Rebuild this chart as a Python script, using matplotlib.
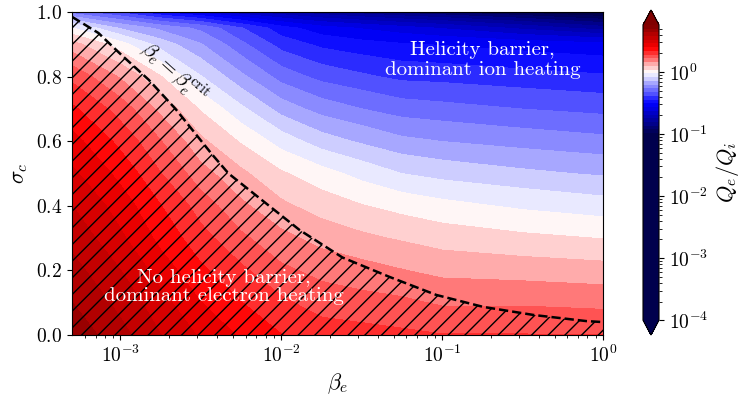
import numpy as np
import matplotlib
matplotlib.use('Agg')
import matplotlib.pyplot as plt
from matplotlib.colors import LinearSegmentedColormap, LogNorm
from matplotlib.ticker import FixedLocator, FixedFormatter

plt.rcParams['font.family'] = 'serif'
plt.rcParams['font.serif'] = ['cmr10']
plt.rcParams['mathtext.fontset'] = 'cm'
plt.rcParams['axes.formatter.use_mathtext'] = True
plt.rcParams['font.size'] = 14

# ----- values -----
beta_e = np.array([5e-4, 1e-3, 1.78e-3, 3.16e-3, 5.62e-3, 1e-2,
                   1.78e-2, 3.16e-2, 5.62e-2, 1e-1, 3.16e-1, 1.0])
sigma_c = np.array([0.0, 0.1, 0.2, 0.3, 0.4, 0.5, 0.6, 0.7, 0.8, 0.9, 0.95, 1.0])

# log10(Qe/Qi), one row per sigma_c, one column per beta_e
log_QeQi = np.array([
    [0.68, 0.60, 0.52, 0.45, 0.39, 0.34, 0.31, 0.30, 0.29, 0.28, 0.28, 0.28],
    [0.64, 0.56, 0.48, 0.40, 0.34, 0.29, 0.25, 0.24, 0.23, 0.21, 0.21, 0.20],
    [0.60, 0.52, 0.43, 0.35, 0.29, 0.23, 0.20, 0.18, 0.16, 0.14, 0.13, 0.12],
    [0.56, 0.47, 0.38, 0.30, 0.23, 0.175, 0.135, 0.11, 0.09, 0.07, 0.05, 0.035],
    [0.52, 0.43, 0.34, 0.25, 0.17, 0.11, 0.07, 0.04, 0.015, -0.005, -0.034, -0.057],
    [0.47, 0.38, 0.28, 0.18, 0.11, 0.045, 0.0, -0.044, -0.084, -0.105, -0.131, -0.152],
    [0.42, 0.32, 0.22, 0.11, 0.03, -0.05, -0.115, -0.154, -0.19, -0.205, -0.228, -0.247],
    [0.35, 0.25, 0.14, 0.03, -0.07, -0.17, -0.23, -0.264, -0.294, -0.305, -0.325, -0.342],
    [0.26, 0.15, 0.04, -0.08, -0.19, -0.29, -0.345, -0.374, -0.40, -0.405, -0.422, -0.437],
    [0.12, 0.00, -0.11, -0.20, -0.31, -0.41, -0.46, -0.484, -0.50, -0.51, -0.53, -0.55],
    [-0.02, -0.15, -0.22, -0.28, -0.38, -0.48, -0.54, -0.57, -0.60, -0.63, -0.70, -0.78],
    [-0.30, -0.40, -0.52, -0.60, -0.68, -0.74, -0.80, -0.85, -0.90, -0.94, -1.02, -1.10],
])

# critical beta_e curve (helicity barrier onset)
beta_crit = np.array([5.0e-4, 7.3e-4, 1.0e-3, 1.5e-3, 2.2e-3, 3.7e-3, 4.7e-3, 8.4e-3,
                      1.3e-2, 2.4e-2, 4.7e-2, 9.2e-2, 0.18, 0.37, 0.79, 1.0])
sigma_crit = np.array([0.985, 0.935, 0.87, 0.79, 0.70, 0.56, 0.50, 0.40,
                       0.325, 0.24, 0.18, 0.124, 0.087, 0.062, 0.043, 0.04])

cbar_ticks = [1e-4, 1e-3, 1e-2, 1e-1, 1e0]
x_major = [-3, -2, -1, 0]
x_labels = [r'$10^{-3}$', r'$10^{-2}$', r'$10^{-1}$', r'$10^{0}$']

# ----- colormap: seismic-like, white at Qe/Qi = 1 -----
lo, hi = -4.0, 0.76
pos = lambda l: (l - lo) / (hi - lo)
cmap = LinearSegmentedColormap.from_list('qeqi', [
    (0.0, (0, 0, 0.3)),
    (pos(-1.0), (0, 0, 0.3)),
    (pos(-0.5), (0, 0, 1)),
    (pos(0.0), (1, 1, 1)),
    (pos(0.38), (1, 0, 0)),
    (1.0, (0.5, 0, 0)),
])
cmap.set_under((0, 0, 0.3))
cmap.set_over((0.5, 0, 0))

fig = plt.figure(figsize=(7.47, 3.99), dpi=100)
ax = fig.add_axes([72 / 747, 64 / 399, 531 / 747, 323 / 399])
cax = fig.add_axes([643 / 747, 64 / 399, 16 / 747, 325 / 399])

X, Y = np.meshgrid(np.log10(beta_e), sigma_c)
levels = np.logspace(lo, hi, 80)
cf = ax.contourf(X, Y, 10**log_QeQi, levels=levels, cmap=cmap,
                 norm=LogNorm(vmin=10**lo, vmax=10**hi), extend='both')

# hatched region below the critical curve
lx = np.log10(beta_crit)
ax.fill_between(lx, 0, sigma_crit, facecolor='none', edgecolor='k',
                hatch='//', linewidth=0)
ax.plot(lx, sigma_crit, 'k--', lw=1.8)

ax.text(np.log10(2.15e-3), 0.81, r'$\beta_e = \beta_e^{\rm crit}$', rotation=-42,
        rotation_mode='anchor', ha='center', va='center', fontsize=15)
ax.text(np.log10(0.179), 0.851, 'Helicity barrier,\ndominant ion heating',
        color='w', ha='center', va='center', fontsize=15, linespacing=1.1)
ax.text(np.log10(4.4e-3), 0.149, 'No helicity barrier,\ndominant electron heating',
        color='w', ha='center', va='center', fontsize=15, linespacing=1.05)

ax.set_xlim(np.log10(5e-4), 0)
ax.set_ylim(0, 1)
ax.xaxis.set_major_locator(FixedLocator(x_major))
ax.xaxis.set_major_formatter(FixedFormatter(x_labels))
minors = [np.log10(k * 10.0**n) for n in range(-4, 0) for k in range(2, 10)]
ax.xaxis.set_minor_locator(FixedLocator([m for m in minors if m > np.log10(5e-4)]))
ax.set_yticks([0, 0.2, 0.4, 0.6, 0.8, 1.0])
ax.set_xlabel(r'$\beta_e$', fontsize=16)
ax.set_ylabel(r'$\sigma_c$', fontsize=16)

cb = fig.colorbar(cf, cax=cax, extend='both')
cb.set_ticks(cbar_ticks)
cb.minorticks_on()
cb.set_label(r'$Q_e/Q_i$', fontsize=16)

fig.savefig('out.png', dpi=100)
